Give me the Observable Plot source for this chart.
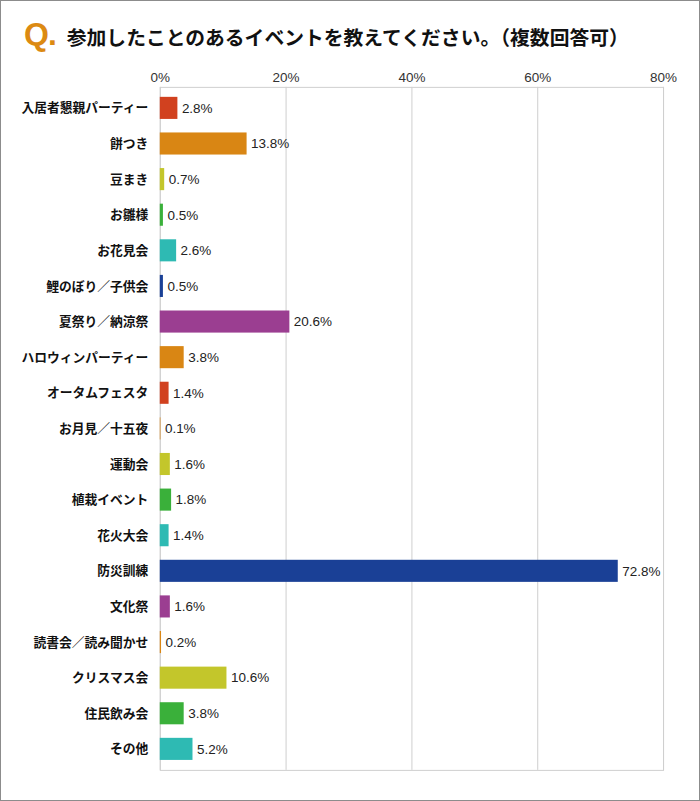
<!DOCTYPE html>
<html>
<head>
<meta charset="utf-8">
<script src="https://cdn.jsdelivr.net/npm/d3@7"></script>
<script src="https://cdn.jsdelivr.net/npm/@observablehq/plot@0.6"></script>
<style>
  html, body { margin: 0; padding: 0; background: #fff; }
  #box { position: relative; width: 700px; height: 801px; box-sizing: border-box; border: 1px solid #8c8c8c; background: #fff; overflow: hidden; }
  #title { position: absolute; left: 23px; top: 15px; display: flex; align-items: baseline; white-space: nowrap; }
  #title .q { font-family: "Liberation Sans", Arial, sans-serif; font-weight: bold; font-size: 32px; color: #dc8a12; letter-spacing: -1px; }
  #title .t { font-family: "Noto Sans CJK JP", sans-serif; font-weight: bold; font-size: 19.8px; color: #111; margin-left: 11px; }
  #chart { position: absolute; left: -1px; top: -1px; }
</style>
</head>
<body>
<div id="box">
  <div id="title"><span class="q">Q.</span><span class="t">参加したことのあるイベントを教えてください。（複数回答可）</span></div>
  <div id="chart"></div>
</div>
<script>
const categories = ["入居者懇親パーティー","餅つき","豆まき","お雛様","お花見会","鯉のぼり／子供会","夏祭り／納涼祭","ハロウィンパーティー","オータムフェスタ","お月見／十五夜","運動会","植栽イベント","花火大会","防災訓練","文化祭","読書会／読み聞かせ","クリスマス会","住民飲み会","その他"];
const values = [2.8,13.8,0.7,0.5,2.6,0.5,20.6,3.8,1.4,0.1,1.6,1.8,1.4,72.8,1.6,0.2,10.6,3.8,5.2];
const colors = ["#d1411f","#d98614","#c3c62b","#3ab03a","#2ebab3","#1a4096","#9b3e91","#d98614","#d1411f","#d98614","#c3c62b","#3ab03a","#2ebab3","#1a4096","#9b3e91","#d98614","#c3c62b","#3ab03a","#2ebab3"];
const xTicks = [0,20,40,60,80];

const data = categories.map((c,i) => ({category: c, value: values[i], color: colors[i]}));

const chart = Plot.plot({
  width: 700,
  height: 801,
  marginTop: 87,
  marginBottom: 30,
  marginLeft: 160,
  marginRight: 36,
  style: {fontFamily: "'Noto Sans CJK JP', sans-serif", background: "transparent"},
  x: {domain: [0, 80], ticks: xTicks, tickFormat: d => d + "%", axis: null},
  y: {domain: categories, paddingInner: 0.38, paddingOuter: 0.28, round: false, axis: null},
  color: {type: "identity"},
  marks: [
    Plot.gridX(xTicks, {stroke: "#cfcfcf", strokeOpacity: 1}),
    Plot.frame({stroke: "#cfcfcf"}),
    Plot.axisX(xTicks, {anchor: "top", tickSize: 0, tickPadding: 5, tickFormat: d => d + "%", fontSize: 13.5, fill: "#333", fontFamily: "'Liberation Sans', Arial, sans-serif", label: null}),
    Plot.axisY({anchor: "left", tickSize: 0, tickPadding: 12, fontSize: 12.8, fontWeight: "bold", fill: "#111", label: null}),
    Plot.barX(data, {x: "value", y: "category", fill: "color"}),
    Plot.text(data, {x: "value", y: "category", text: d => d.value.toFixed(1) + "%", textAnchor: "start", dx: 4, fontSize: 13.5, fill: "#222", fontFamily: "'Liberation Sans', Arial, sans-serif"})
  ]
});
document.getElementById("chart").appendChild(chart);
</script>
</body>
</html>
